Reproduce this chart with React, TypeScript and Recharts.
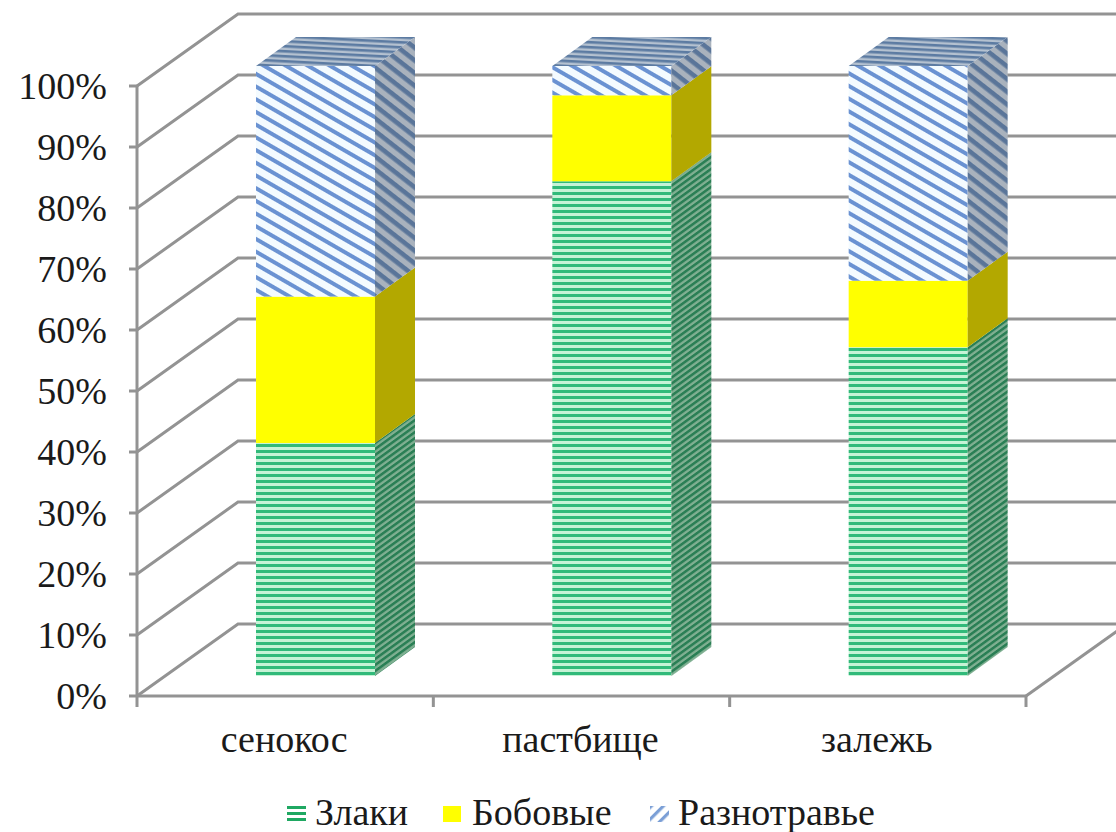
import { BarChart, Bar, XAxis, YAxis, CartesianGrid, Legend } from "recharts"

const categories = ["сенокос", "пастбище", "залежь"]
const zlaki = [38.2, 81.1, 53.9]
const bobovye = [24, 14.1, 10.9]
const raznotrave = [37.8, 4.8, 35.2]
const percentTicks = [0, 10, 20, 30, 40, 50, 60, 70, 80, 90, 100]

const chartData = categories.map((name, i) => ({
  name,
  zlaki: zlaki[i],
  bobovye: bobovye[i],
  raznotrave: raznotrave[i],
}))

const FONT = '"Liberation Serif", "Times New Roman", serif'
const AXIS_COLOR = "#939393"
const CHART_W = 1116
const CHART_H = 832
const PLOT_LEFT = 137
const PLOT_RIGHT = 1026
const PLOT_TOP = 86
const PLOT_BOTTOM = 696
const LEGEND_H = 50

// depth of the back wall, and of the columns standing on the floor
const WALL_DX = 101
const WALL_DY = 72
const BAR_SHIFT_X = 30
const BAR_SHIFT_Y = 20
const BAR_DX = 40
const BAR_DY = 29

function Patterns() {
  return (
    <svg width={0} height={0} style={{ position: "absolute" }}>
      <defs>
        <pattern id="green-front" width={8} height={6} patternUnits="userSpaceOnUse">
          <rect width={8} height={6} fill="#c6f3d6" />
          <rect width={8} height={3} fill="#31ba7a" />
        </pattern>
        <pattern id="green-side" width={8} height={6} patternUnits="userSpaceOnUse" patternTransform="skewY(-36)">
          <rect width={8} height={6} fill="#80b092" />
          <rect width={8} height={3.2} fill="#2a7f55" />
        </pattern>
        <pattern id="blue-front" width={8} height={11} patternUnits="userSpaceOnUse" patternTransform="rotate(30)">
          <rect width={8} height={11} fill="#f4fbff" />
          <rect width={8} height={4} fill="#6a92d2" />
        </pattern>
        <pattern id="blue-side" width={8} height={10} patternUnits="userSpaceOnUse" patternTransform="rotate(38)">
          <rect width={8} height={10} fill="#a9b2bd" />
          <rect width={8} height={4.6} fill="#5a7599" />
        </pattern>
        <pattern id="blue-top" width={8} height={5} patternUnits="userSpaceOnUse" patternTransform="rotate(3)">
          <rect width={8} height={5} fill="#b4c1d0" />
          <rect width={8} height={2.6} fill="#5c7ba2" />
        </pattern>
        <pattern id="legend-green" x={0} y={24} width={8} height={6} patternUnits="userSpaceOnUse">
          <rect width={8} height={3} fill="#1fa862" />
        </pattern>
        <pattern id="legend-blue" width={8.5} height={8.5} patternUnits="userSpaceOnUse" patternTransform="rotate(-45)">
          <rect width={8.5} height={3.2} fill="#7b9fd6" />
        </pattern>
      </defs>
    </svg>
  )
}

const seriesFaces: Record<string, { front: string; side: string }> = {
  zlaki: { front: "url(#green-front)", side: "url(#green-side)" },
  bobovye: { front: "#ffff00", side: "#b3a800" },
  raznotrave: { front: "url(#blue-front)", side: "url(#blue-side)" },
}

const ColumnSegment = ({ x, y, width, height, dataKey }: any) => {
  const faces = seriesFaces[dataKey]
  const left = x + BAR_SHIFT_X
  const right = left + width
  const top = y - BAR_SHIFT_Y
  const bottom = top + height
  return (
    <g>
      <rect x={left} y={top} width={width} height={height} fill={faces.front} />
      <polygon
        points={`${right},${top} ${right + BAR_DX},${top - BAR_DY} ${right + BAR_DX},${bottom - BAR_DY} ${right},${bottom}`}
        fill={faces.side}
      />
      {dataKey === "raznotrave" && (
        <polygon
          points={`${left},${top} ${left + BAR_DX},${top - BAR_DY} ${right + BAR_DX},${top - BAR_DY} ${right},${top}`}
          fill="url(#blue-top)"
        />
      )}
    </g>
  )
}

// each gridline runs from the side wall back and then along the rear wall
const WallLine = ({ x1, y1, x2 }: any) => {
  const backX = x1 + WALL_DX
  const backY = y1 - WALL_DY
  return (
    <g fill="none" stroke={AXIS_COLOR} strokeWidth={3}>
      <path d={`M${x1},${y1}L${backX},${backY}L${x2 + WALL_DX},${backY}`} />
      {Math.abs(y1 - PLOT_BOTTOM) < 1 && <path d={`M${x2},${y1}L${x2 + WALL_DX},${backY}`} />}
    </g>
  )
}

const CategoryTick = ({ x, y, index, payload }: any) => {
  const band = (PLOT_RIGHT - PLOT_LEFT) / categories.length
  const edge = x - band / 2
  return (
    <g>
      <line x1={edge} y1={y} x2={edge} y2={y + 11} stroke={AXIS_COLOR} strokeWidth={3} />
      {index === categories.length - 1 && (
        <line x1={edge + band} y1={y} x2={edge + band} y2={y + 11} stroke={AXIS_COLOR} strokeWidth={3} />
      )}
      <text x={x - 1} y={y + 56} textAnchor="middle" fontFamily={FONT} fontSize={38} fill="#1a1a1a">
        {payload.value}
      </text>
    </g>
  )
}

const legendItems = [
  { label: "Злаки", fill: "url(#legend-green)", x: 287, width: 19, textX: 315 },
  { label: "Бобовые", fill: "#ffff00", x: 443, width: 18, textX: 472 },
  { label: "Разнотравье", fill: "url(#legend-blue)", x: 650, width: 19, textX: 678 },
]

const ChartLegend = () => (
  <svg width={CHART_W} height={LEGEND_H} style={{ display: "block" }}>
    {legendItems.map((item) => (
      <g key={item.label}>
        <rect x={item.x} y={24} width={item.width} height={16} fill={item.fill} />
        <text x={item.textX} y={43} fontFamily={FONT} fontSize={38} fill="#1a1a1a">
          {item.label}
        </text>
      </g>
    ))}
  </svg>
)

export default function App() {
  return (
    <div style={{ position: "absolute", left: 0, top: 0, width: CHART_W, height: CHART_H, overflow: "hidden" }}>
      <Patterns />
      <BarChart
        width={CHART_W}
        height={CHART_H}
        data={chartData}
        barSize={119}
        margin={{ top: PLOT_TOP, right: CHART_W - PLOT_RIGHT, bottom: 0, left: 0 }}
      >
        <CartesianGrid horizontal={(props: any) => <WallLine key={props.y1} {...props} />} vertical={false} />
        <XAxis
          dataKey="name"
          axisLine={{ stroke: AXIS_COLOR, strokeWidth: 3 }}
          tickLine={false}
          tickSize={0}
          tickMargin={0}
          tick={<CategoryTick />}
          height={CHART_H - PLOT_BOTTOM - LEGEND_H}
          interval={0}
        />
        <YAxis
          domain={[0, 100]}
          ticks={percentTicks}
          tickFormatter={(v) => `${v}%`}
          width={PLOT_LEFT}
          axisLine={{ stroke: AXIS_COLOR, strokeWidth: 3 }}
          tickLine={{ stroke: AXIS_COLOR, strokeWidth: 3 }}
          tickSize={8}
          tickMargin={22}
          tick={{ fontFamily: FONT, fontSize: 38, fill: "#1a1a1a" }}
          interval={0}
        />
        <Bar dataKey="zlaki" name="Злаки" stackId="a" shape={<ColumnSegment />} isAnimationActive={false} />
        <Bar dataKey="bobovye" name="Бобовые" stackId="a" shape={<ColumnSegment />} isAnimationActive={false} />
        <Bar dataKey="raznotrave" name="Разнотравье" stackId="a" shape={<ColumnSegment />} isAnimationActive={false} />
        <Legend content={<ChartLegend />} height={LEGEND_H} verticalAlign="bottom" />
      </BarChart>
    </div>
  )
}
